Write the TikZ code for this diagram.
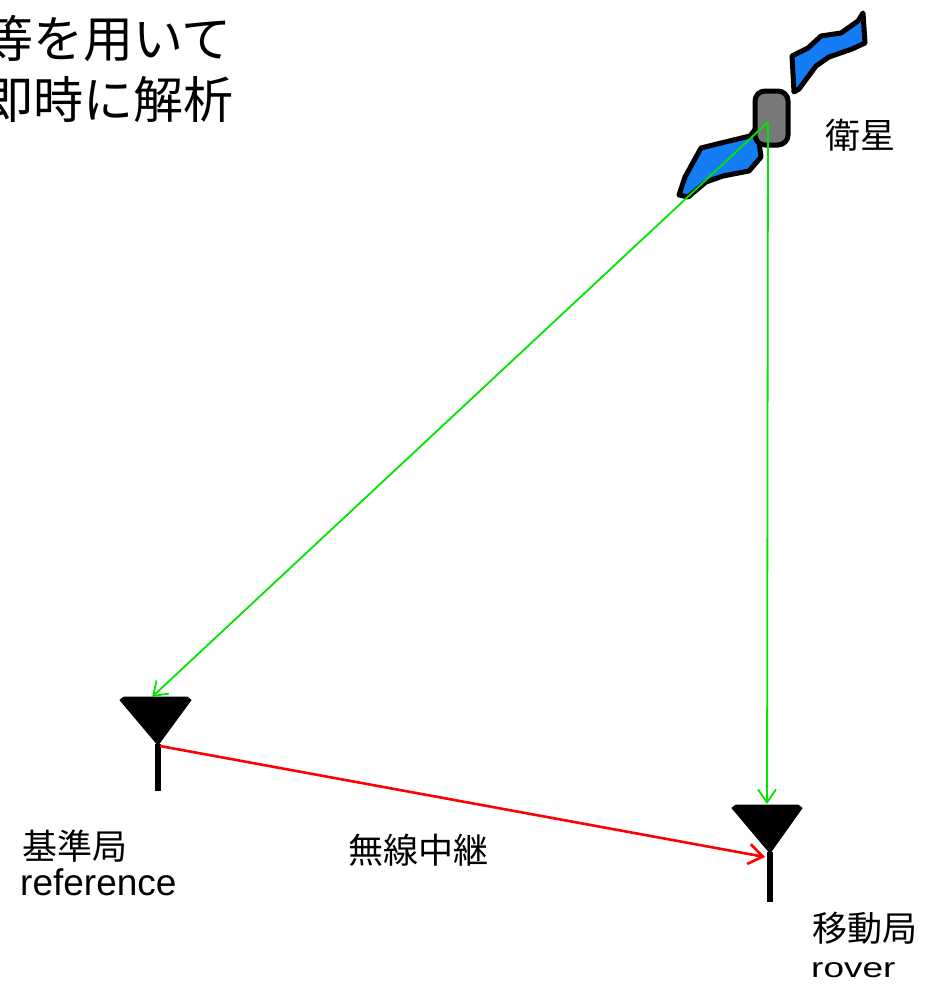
\documentclass[tikz,border=0pt]{standalone}
\usepackage{fontspec}
\newfontfamily\jp{Noto Sans CJK JP}
\newfontfamily\lat{Liberation Sans}
\usetikzlibrary{arrows.meta}
\definecolor{sigGreen}{RGB}{0,230,0}
\definecolor{linkRed}{RGB}{255,0,0}
\definecolor{panelBlue}{RGB}{20,125,245}
\definecolor{bodyGray}{RGB}{120,120,120}
\begin{document}
\begin{tikzpicture}[x=1pt,y=-1pt,
  label/.style={inner sep=0pt,font=\jp\fontsize{35}{40}\selectfont},
  latin/.style={inner sep=0pt,anchor=base west,font=\lat\fontsize{37}{42}\selectfont},
  headline/.style={inner sep=0pt,anchor=west,font=\jp\fontsize{50}{56}\selectfont},
  signal/.style={draw=sigGreen,line width=1.8pt,-{Straight Barb[length=13pt,width=18pt,line width=1.8pt]}},
  relay/.style={draw=linkRed,line width=2.6pt,-{Straight Barb[length=14pt,width=20pt,line width=2.6pt]}},
  panel/.style={fill=panelBlue,draw=black,line width=5pt,line join=round},
  antenna/.style={fill=black,draw=black,line width=1pt,line join=round},
]
\useasboundingbox (0,0) rectangle (935,985);
\clip (0,0) rectangle (935,985);
\fill[white] (0,0) rectangle (935,985);

% heading lines, cut off at the left border
\node[headline] (head1) at (-17,38) {等を用いて};
\node[headline] (head2) at (-17,100) {即時に解析};

% satellite: two solar panels and a body
\draw[panel] (792,56) -- (808,48) -- (821,36) -- (841,33) -- (858,21) -- (863,13)
  -- (865,43) -- (852,49) -- (829,57) -- (816,66) -- (799,89) -- (794,92) -- cycle;
\draw[panel] (679,195) -- (685,177) -- (701,148) -- (721,143) -- (750,136) -- (757,127)
  -- (761,157) -- (749,171) -- (723,176) -- (706,182) -- (688,197) -- cycle;
\draw[fill=bodyGray,draw=black,line width=5pt,rounded corners=10pt]
  (755,91) rectangle (788,145);
\coordinate (sat) at (768,122);
\node[label] (satname) at (860,135) {衛星};

% reference antenna
\draw[antenna] (120,700) -- (124,697) -- (187,697) -- (191,700) -- (158,745) -- cycle;
\fill (155,744) rectangle (161,791);
\coordinate (refTop) at (152,697);
\coordinate (refFeed) at (160,746);

% rover antenna
\draw[antenna] (732,808) -- (736,805) -- (798,805) -- (802,808) -- (770,853) -- cycle;
\fill (767,852) rectangle (773,902);
\coordinate (roverTop) at (767,804);
\coordinate (roverFeed) at (765,857);

% signals from the satellite and the radio relay
\draw[signal] (sat) -- (refTop);
\draw[signal] (sat) -- (roverTop);
\draw[relay] (refFeed) -- (roverFeed);

% labels
\node[label] (refname) at (75,846) {基準局};
\node[latin] (refen) at (20,895) {reference};
\node[label] (relayname) at (418,850) {無線中継};
\node[label] (rovername) at (865,928) {移動局};
\node[latin] (roveren) at (811,977) {\scalebox{1}[0.75]{rover}};
\end{tikzpicture}
\end{document}
